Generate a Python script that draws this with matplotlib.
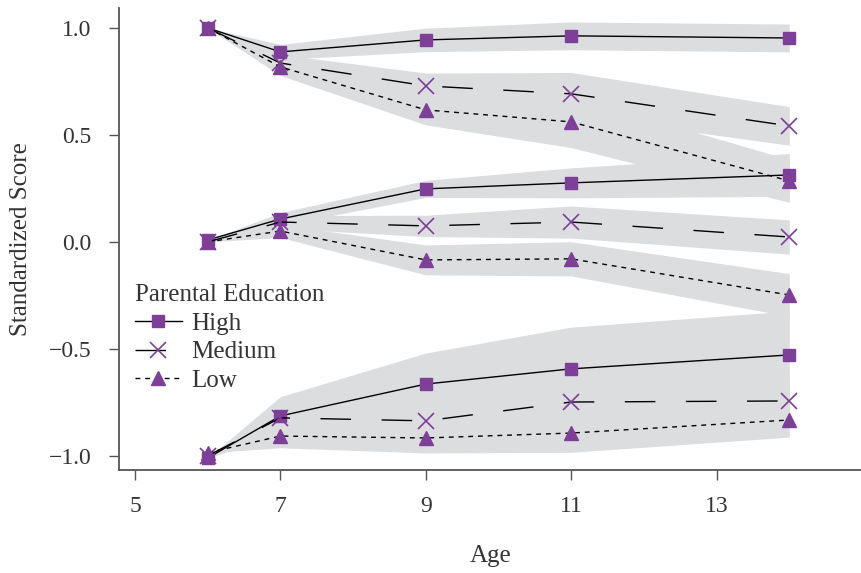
import numpy as np
import matplotlib.pyplot as plt

plt.rcParams['font.family'] = ['Liberation Serif', 'DejaVu Serif']

ages = [6, 7, 9, 11, 14]
levels = ['High', 'Medium', 'Low']

# three trajectories per education level (start at 1, 0 and -1)
top_high = [1.0, 0.888, 0.944, 0.963, 0.953]
top_medium = [1.0, 0.836, 0.729, 0.692, 0.542]
top_low = [1.0, 0.818, 0.617, 0.561, 0.285]
mid_high = [0.009, 0.107, 0.248, 0.276, 0.313]
mid_medium = [0.0, 0.093, 0.075, 0.093, 0.023]
mid_low = [0.0, 0.051, -0.084, -0.079, -0.248]
bot_high = [-1.01, -0.813, -0.664, -0.593, -0.528]
bot_medium = [-1.0, -0.822, -0.836, -0.748, -0.743]
bot_low = [-0.985, -0.907, -0.916, -0.893, -0.832]

# half width of the grey bands
top_high_ci = [0.0, 0.035, 0.055, 0.065, 0.065]
top_medium_ci = [0.0, 0.04, 0.06, 0.10, 0.09]
top_low_ci = [0.0, 0.04, 0.07, 0.12, 0.10]
mid_high_ci = [0.0, 0.03, 0.04, 0.07, 0.10]
mid_medium_ci = [0.0, 0.03, 0.05, 0.075, 0.08]
mid_low_ci = [0.0, 0.03, 0.07, 0.08, 0.10]
bot_high_ci = [0.0, 0.09, 0.145, 0.195, 0.205]
bot_medium_ci = [0.0, 0.06, 0.08, 0.10, 0.10]
bot_low_ci = [0.0, 0.055, 0.07, 0.09, 0.08]

series = {
    'High': [(top_high, top_high_ci), (mid_high, mid_high_ci), (bot_high, bot_high_ci)],
    'Medium': [(top_medium, top_medium_ci), (mid_medium, mid_medium_ci), (bot_medium, bot_medium_ci)],
    'Low': [(top_low, top_low_ci), (mid_low, mid_low_ci), (bot_low, bot_low_ci)],
}

purple = '#7e3f98'
band = '#dcdddf'
styles = {
    'High': dict(marker='s', markersize=9, dashes=()),
    'Medium': dict(marker='x', markersize=11, markeredgewidth=1.2, dashes=(22, 22)),
    'Low': dict(marker='^', markersize=10, dashes=(3.5, 3.5)),
}

fig = plt.figure(figsize=(8.62, 5.73), dpi=100)
ax = fig.add_axes([0.138, 0.18, 0.862, 0.806])

# bands first, so every line sits on top
for lvl in levels:
    for vals, ci in series[lvl]:
        v = np.array(vals)
        c = np.array(ci)
        ax.fill_between(ages, v - c, v + c, color=band, linewidth=0, zorder=1)

for lvl in levels:
    st = styles[lvl]
    for i, (vals, ci) in enumerate(series[lvl]):
        line, = ax.plot(ages, vals, color='black', linewidth=1.0,
                        marker=st['marker'], markersize=st['markersize'],
                        markerfacecolor=purple, markeredgecolor=purple,
                        markeredgewidth=st.get('markeredgewidth', 1.0),
                        label=lvl if i == 0 else None, zorder=3)
        if st['dashes']:
            line.set_dashes(st['dashes'])

ax.set_xlim(4.78, 15.0)
ax.set_ylim(-1.065, 1.093)
ax.set_xticks([5, 7, 9, 11, 13])
ax.set_yticks([-1.0, -0.5, 0.0, 0.5, 1.0])
ax.set_yticklabels(['\u22121.0', '\u22120.5', '0.0', '0.5', '1.0'])

ax.spines['top'].set_visible(False)
ax.spines['right'].set_visible(False)
for s in ['left', 'bottom']:
    ax.spines[s].set_color('#555555')
    ax.spines[s].set_linewidth(1.3)
ax.tick_params(axis='both', direction='out', length=7, width=1.0, color='#555555',
               labelsize=17, labelcolor='#333333')
ax.tick_params(axis='x', pad=12)
ax.tick_params(axis='y', pad=13)

ax.set_xlabel('Age', fontsize=18, color='#333333', labelpad=20)
ax.set_ylabel('Standardized Score', fontsize=18, color='#333333', labelpad=12)

leg = ax.legend(loc='upper left', bbox_to_anchor=(0.012, 0.419), frameon=False,
                title='Parental Education', fontsize=18, title_fontsize=18,
                alignment='left', handlelength=1.85, handletextpad=0.4,
                labelspacing=0.25, borderaxespad=0.0, borderpad=0.3)
for t in leg.get_texts():
    t.set_color('#333333')
leg.get_title().set_color('#333333')

fig.savefig('out.png', dpi=100)
